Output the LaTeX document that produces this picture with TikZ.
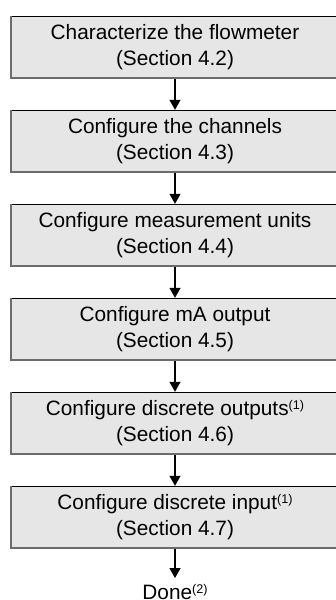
\documentclass[tikz,border=0pt]{standalone}
\usepackage{fontspec}
\setmainfont{Liberation Sans}
\usetikzlibrary{arrows.meta}
\definecolor{boxfill}{RGB}{230,230,230}
\definecolor{boxedge}{RGB}{108,108,108}
% raised footnote marker, e.g. (1)
\newcommand{\notemark}[1]{\raisebox{6pt}{\fontsize{12.6}{12.6}\selectfont(#1)}}
\begin{document}
\begin{tikzpicture}[x=1pt,y=-1pt,
  stepbox/.style={fill=boxfill, draw=none, inner sep=0pt,
    minimum width=329pt, minimum height=63pt, align=center,
    font=\fontsize{20.8}{26}\selectfont,
    execute at begin node={\rule{0pt}{18pt}}},
  topedge/.style={draw=black, line width=1pt},
  shadeedge/.style={draw=boxedge, line width=2pt},
  flow/.style={line width=1.3pt, -{Triangle[width=11pt,length=10pt]}},
  endtext/.style={anchor=base, inner sep=0pt, font=\fontsize{20.8}{26}\selectfont}]
  \useasboundingbox (0,0) rectangle (336,600);

  \node[stepbox] (b1) at (175,47.5) {Characterize the flowmeter\\(Section 4.2)};
  \node[stepbox] (b2) at (175,141.5) {Configure the channels\\(Section 4.3)};
  \node[stepbox] (b3) at (175,235.5) {Configure measurement units\\(Section 4.4)};
  \node[stepbox] (b4) at (175,329.5) {Configure mA output\\(Section 4.5)};
  \node[stepbox] (b5) at (175,423.5) {Configure discrete outputs\notemark{1}\\(Section 4.6)};
  \node[stepbox] (b6) at (175,517.5) {Configure discrete input\notemark{1}\\(Section 4.7)};
  \node[endtext] (done) at (175,599.3) {Done\notemark{2}};
  \coordinate (doneTip) at (175,578);

  % bevelled box borders: dark top line, grey left and bottom lines
  \foreach \b in {b1,b2,b3,b4,b5,b6} {
    \draw[topedge] ([yshift=-0.5pt]\b.north west) -- ([yshift=-0.5pt]\b.north east);
    \draw[shadeedge] ([xshift=1pt]\b.north west) -- ([xshift=1pt,yshift=1pt]\b.south west)
      -- ([yshift=1pt]\b.south east);
  }

  \draw[flow] (b1.south) -- (b2.north);
  \draw[flow] (b2.south) -- (b3.north);
  \draw[flow] (b3.south) -- (b4.north);
  \draw[flow] (b4.south) -- (b5.north);
  \draw[flow] (b5.south) -- (b6.north);
  \draw[flow] (b6.south) -- (doneTip);
\end{tikzpicture}
\end{document}
